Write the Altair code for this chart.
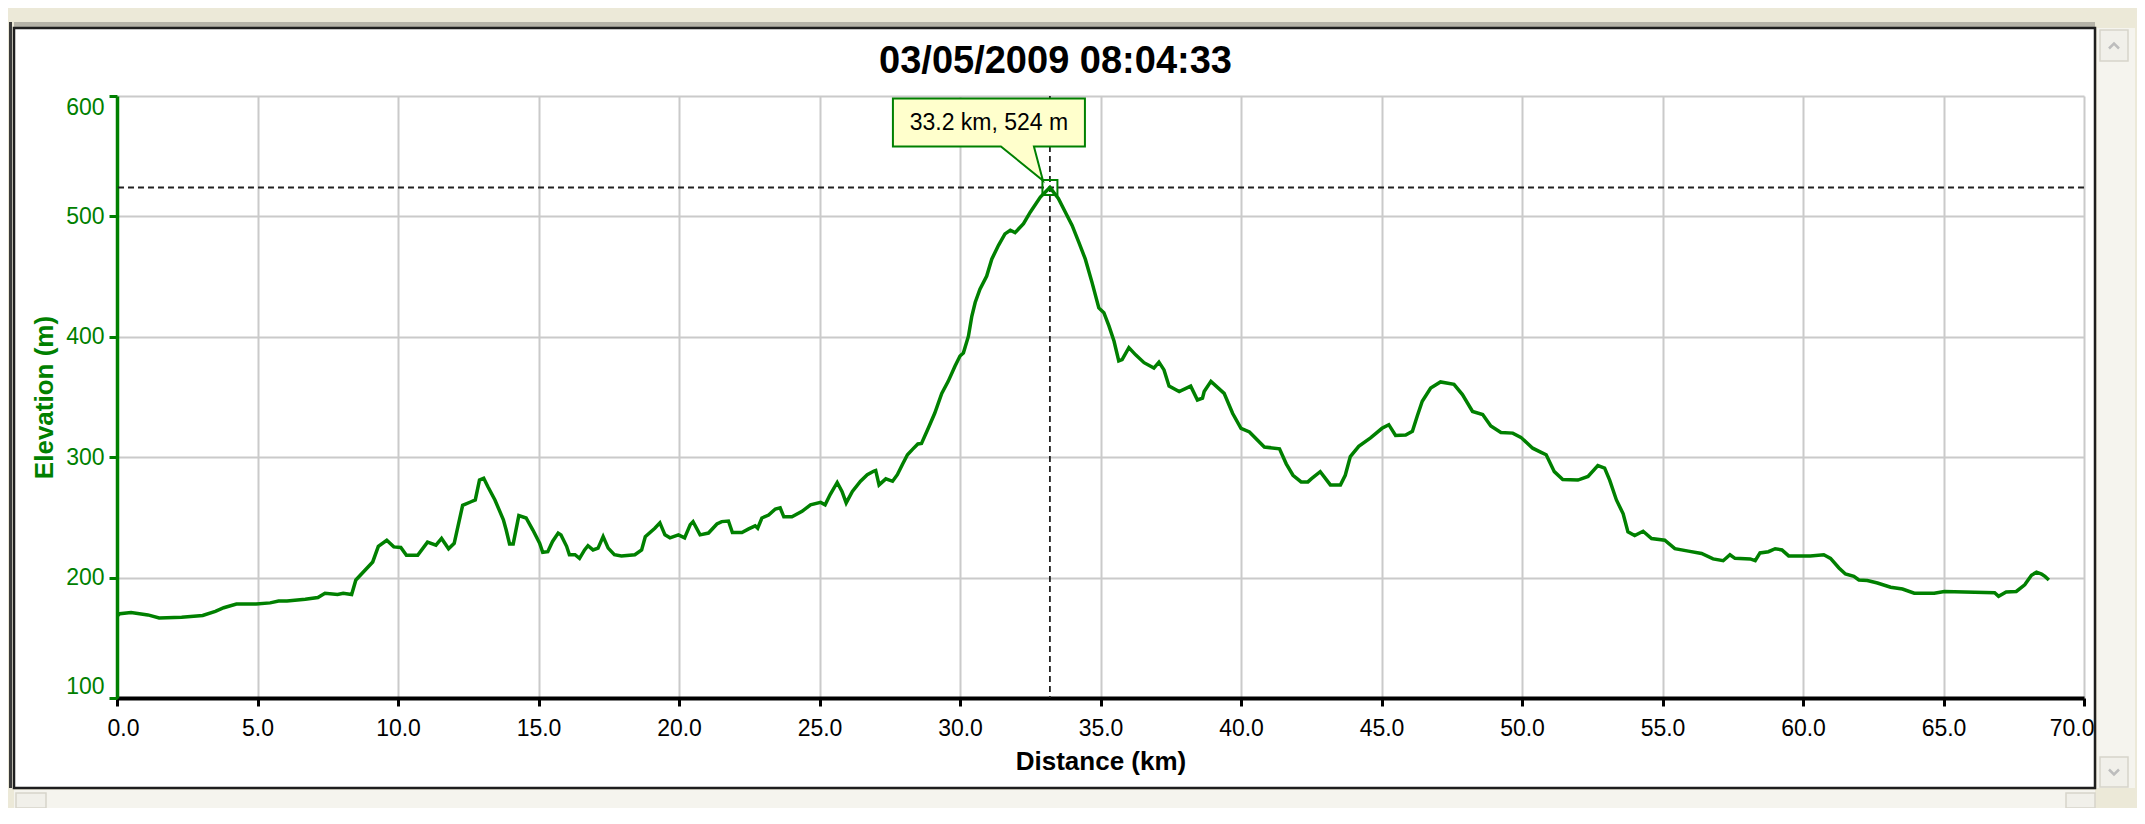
import altair as alt
import pandas as pd

# ---------------- data ----------------
TITLE = "03/05/2009 08:04:33"
X_TITLE = "Distance (km)"
Y_TITLE = "Elevation (m)"
X_TICKS = [0, 5, 10, 15, 20, 25, 30, 35, 40, 45, 50, 55, 60, 65, 70]
Y_TICKS = [100, 200, 300, 400, 500, 600]

distance_km = [
    0.0, 0.1, 0.5, 1.1, 1.5, 2.3, 3.05, 3.5, 3.8, 4.25, 4.95, 5.45, 5.75, 6.05,
    6.7, 7.15, 7.4, 7.85, 8.05, 8.35, 8.5, 8.8, 9.1, 9.3, 9.6, 9.85, 10.1, 10.3,
    10.7, 11.05, 11.35, 11.55, 11.8, 12.0, 12.3, 12.6, 12.75, 12.9, 13.05, 13.2,
    13.45, 13.75, 13.85, 13.97, 14.1, 14.3, 14.56, 14.8, 15.04, 15.15, 15.33,
    15.5, 15.7, 15.8, 16.0, 16.1, 16.3, 16.46, 16.64, 16.76, 16.94, 17.12, 17.3,
    17.48, 17.7, 17.95, 18.43, 18.67, 18.8, 19.14, 19.32, 19.5, 19.68, 19.98,
    20.2, 20.4, 20.5, 20.75, 21.05, 21.35, 21.52, 21.76, 21.9, 22.24, 22.48,
    22.71, 22.8, 22.95, 23.19, 23.43, 23.6, 23.73, 24.02, 24.38, 24.68, 25.04,
    25.2, 25.38, 25.63, 25.8, 25.95, 26.17, 26.46, 26.7, 26.94, 27.0, 27.12,
    27.36, 27.6, 27.77, 27.95, 28.13, 28.31, 28.5, 28.63, 28.87, 29.1, 29.35,
    29.58, 29.82, 30.0, 30.12, 30.3, 30.42, 30.54, 30.71, 30.95, 31.13, 31.37,
    31.6, 31.79, 31.96, 32.26, 32.5, 32.86, 33.2, 33.5, 33.75, 33.99, 34.23,
    34.46, 34.7, 34.94, 35.12, 35.3, 35.48, 35.65, 35.77, 36.01, 36.25, 36.55,
    36.9, 37.08, 37.26, 37.44, 37.8, 38.21, 38.45, 38.63, 38.69, 38.93, 39.4,
    39.7, 40.0, 40.3, 40.83, 41.37, 41.61, 41.85, 42.14, 42.38, 42.5, 42.82,
    43.18, 43.54, 43.71, 43.89, 44.19, 44.61, 45.02, 45.26, 45.5, 45.86, 46.1,
    46.27, 46.45, 46.75, 47.1, 47.58, 47.88, 48.24, 48.6, 48.89, 49.25, 49.67,
    49.96, 50.38, 50.68, 50.86, 51.15, 51.45, 51.99, 52.35, 52.7, 52.94, 53.12,
    53.36, 53.6, 53.77, 54.01, 54.31, 54.61, 55.08, 55.44, 55.92, 56.39, 56.8,
    57.16, 57.4, 57.58, 58.12, 58.3, 58.47, 58.77, 59.01, 59.25, 59.49, 60.26,
    60.74, 60.98, 61.28, 61.51, 61.81, 61.99, 62.29, 62.65, 63.12, 63.54, 63.96,
    64.67, 65.03, 66.82, 66.96, 67.23, 67.59, 67.89, 68.13, 68.31, 68.49, 68.61,
    68.75,
]
elevation_m = [
    168, 170, 171, 169, 166.5, 167, 168.5, 172, 175, 178, 178, 179, 180.5, 180.5,
    182, 183.5, 187, 186, 187, 186, 198, 205.5, 213, 226, 231, 225.5, 225, 218.5,
    218.5, 229.5, 227, 232.5, 224, 228.5, 260, 263, 264.5, 281, 282.5, 275.5,
    264.5, 248, 239.5, 228, 228, 251.5, 249.5, 239.5, 228.5, 221, 221.5,
    230, 237, 235.5, 226, 219, 219, 216, 223, 226.5, 223, 224.5, 234,
    224.5, 219, 218, 219, 223, 234, 241, 245.5, 235.5, 233, 235.5,
    233, 244, 246.5, 235.5, 237, 244.5, 246.5, 247, 237.5, 237.5, 240.5,
    243, 241, 249.5, 252, 257, 258, 250.5, 250.5, 255, 260.5, 262.5,
    260.5, 269, 279, 271.5, 262, 271.5, 280, 285.5, 288.5, 289, 277,
    282, 280, 285.5, 294, 302, 306.5, 311, 311.5, 324, 336.5, 353,
    363, 375.5, 384, 386.5, 400.5, 417, 428.5, 439.5, 450.5, 464.5, 476,
    485.5, 488.5, 486.5, 494, 503.5, 516, 524, 515, 503.5, 492.5, 478.5,
    464.5, 445, 424, 420, 409, 396.5, 380, 381, 391, 385, 378.5,
    374, 379, 372.5, 359, 354.5, 359, 347.5, 349, 354.5, 363, 353,
    336.5, 324, 321, 308.5, 307, 294.5, 285, 279.5, 279.5, 282, 288,
    277, 277, 285, 300.5, 309, 316, 324, 327, 318, 318.5, 321.5,
    334, 346.5, 357.5, 362.5, 360.5, 352, 338, 335.5, 326, 320.5, 320,
    316.5, 307.5, 304, 302, 288, 281.5, 281, 284, 293, 291, 281,
    264.5, 253, 238, 235, 238.5, 232.5, 231, 224, 222, 220, 215.5,
    214, 219, 216, 215.5, 214, 220.5, 221.5, 224, 223, 218, 218,
    219, 216, 208, 203, 201, 198, 197.5, 195.5, 192, 190.5, 187,
    187, 188.5, 187.5, 184.5, 188, 188.5, 194, 202, 204.5, 203, 201,
    198,
]
peak_km = [33.2]
peak_m = [524]

# ---------------- styling ----------------
GREEN = "#008000"
FONT = "Liberation Sans"
BEIGE = "#ece9d8"
TRACK = "#f5f4ee"
PLOT_W, PLOT_H = 1967, 602
PAD = {"left": 109, "top": 88, "right": 53, "bottom": 110}
ORIGIN_X, ORIGIN_Y = 8 + PAD["left"], 8 + PAD["top"]  # plot origin on the page

df = pd.DataFrame({"km": distance_km, "m": elevation_m})
peak = pd.DataFrame({
    "km": peak_km,
    "m": peak_m,
    "label": [f"{k:.1f} km, {m:.0f} m" for k, m in zip(peak_km, peak_m)],
})
one = pd.DataFrame({"k": [0]})

x_scale = alt.Scale(domain=[0, 70], nice=False, zero=False)
y_scale = alt.Scale(domain=[100, 600], nice=False, zero=False)

x_axis = alt.Axis(
    values=X_TICKS, format=".1f", title=X_TITLE, grid=True,
    gridColor="#cacaca", gridWidth=2,
    domainColor="black", domainWidth=4, tickColor="black", tickWidth=3, tickSize=8,
    labelFont=FONT, labelFontSize=23, labelColor="black", labelPadding=11,
    labelFlush=True, labelFlushOffset=10, labelOverlap=False,
    titleFont=FONT, titleFontSize=26, titleFontWeight="bold", titleColor="black",
    titlePadding=8,
)
y_axis = alt.Axis(
    values=Y_TICKS, format="d", title=Y_TITLE, grid=True,
    gridColor="#cacaca", gridWidth=2,
    domainColor=GREEN, domainWidth=3.5, tickColor=GREEN, tickWidth=3, tickSize=8,
    labelFont=FONT, labelFontSize=23, labelColor=GREEN, labelPadding=5,
    labelFlush=True, labelOverlap=False,
    titleFont=FONT, titleFontSize=26, titleFontWeight="bold", titleColor=GREEN,
    titlePadding=8,
)


def page_box(x0, y0, x1, y1, **style):
    """Window chrome rectangle, given in page pixels."""
    return alt.Chart(one).mark_rect(**style).encode(
        x=alt.value(x0 - ORIGIN_X), x2=alt.value(x1 - ORIGIN_X),
        y=alt.value(y0 - ORIGIN_Y), y2=alt.value(y1 - ORIGIN_Y),
    )


def page_glyph(cx, cy, shape):
    return alt.Chart(one).mark_point(
        shape=shape, size=100, filled=False, stroke="#bdbdbd", strokeWidth=2.5, opacity=1
    ).encode(x=alt.value(cx - ORIGIN_X), y=alt.value(cy - ORIGIN_Y))


chrome = [
    page_box(8, 8, 2137, 28, fill=BEIGE),
    page_box(8, 22, 2137, 27, fill="#b5b3a8"),
    page_box(8, 8, 14, 808, fill=BEIGE),
    page_box(9, 22, 12, 792, fill="#3a3a3a"),
    page_box(2095, 8, 2137, 808, fill=BEIGE),
    page_box(8, 788, 2137, 808, fill=BEIGE),
    page_box(2097, 28, 2135, 788, fill=TRACK),
    page_box(14, 790, 2095, 808, fill=TRACK),
    page_box(2100, 30, 2128, 61, fill="#f1f0ea", stroke="#d6d4ca", strokeWidth=1.5),
    page_box(2100, 757, 2128, 787, fill="#f1f0ea", stroke="#d6d4ca", strokeWidth=1.5),
    page_box(16, 793, 46, 808, fill="#f1f0ea", stroke="#d6d4ca", strokeWidth=1.5),
    page_box(2066, 793, 2095, 808, fill="#f1f0ea", stroke="#d6d4ca", strokeWidth=1.5),
    page_glyph(2114, 46, "M-1,0.5L0,-0.5L1,0.5"),
    page_glyph(2114, 772, "M-1,-0.5L0,0.5L1,-0.5"),
    page_box(14, 28, 2095, 788, filled=False, stroke="#1e1e1e", strokeWidth=2.5),
]

X = alt.X("km:Q", scale=x_scale, axis=x_axis)
Y = alt.Y("m:Q", scale=y_scale, axis=y_axis)

h_rule = alt.Chart(peak).mark_rule(
    color="#222222", strokeWidth=1.8, strokeDash=[6, 4]
).encode(y=Y)
v_rule = alt.Chart(peak).mark_rule(
    color="#222222", strokeWidth=1.8, strokeDash=[6, 4]
).encode(x=X)

profile = alt.Chart(df).mark_line(color=GREEN, strokeWidth=3.5).encode(x=X, y=Y)

marker = alt.Chart(peak).mark_point(
    shape="square", size=225, filled=False, color=GREEN, strokeWidth=2, opacity=1
).encode(x=X, y=Y)

CALLOUT = "M-157,-89L35,-89L35,-41L-16,-41L-7,-7L-49,-41L-157,-41Z"
callout = alt.Chart(peak).mark_point(
    shape=CALLOUT, size=4, filled=True, fill="#ffffcc", stroke=GREEN,
    strokeWidth=2, opacity=1, fillOpacity=1, strokeOpacity=1,
).encode(x=X, y=Y)

callout_text = alt.Chart(peak).mark_text(
    dx=-61, dy=-65, font=FONT, fontSize=23, color="black",
    align="center", baseline="middle",
).encode(x=X, y=Y, text="label:N")

chart = alt.layer(
    *chrome, h_rule, v_rule, profile, marker, callout, callout_text
).properties(
    width=PLOT_W,
    height=PLOT_H,
    padding=PAD,
    autosize=alt.AutoSizeParams(type="none"),
    background="white",
    title=alt.TitleParams(
        TITLE, font=FONT, fontSize=38, fontWeight="bold", color="black",
        anchor="middle", dx=-45, dy=103, offset=0, baseline="alphabetic",
    ),
).configure_view(strokeWidth=0)

chart.save("out.html", embed_options={"renderer": "svg", "actions": False})
